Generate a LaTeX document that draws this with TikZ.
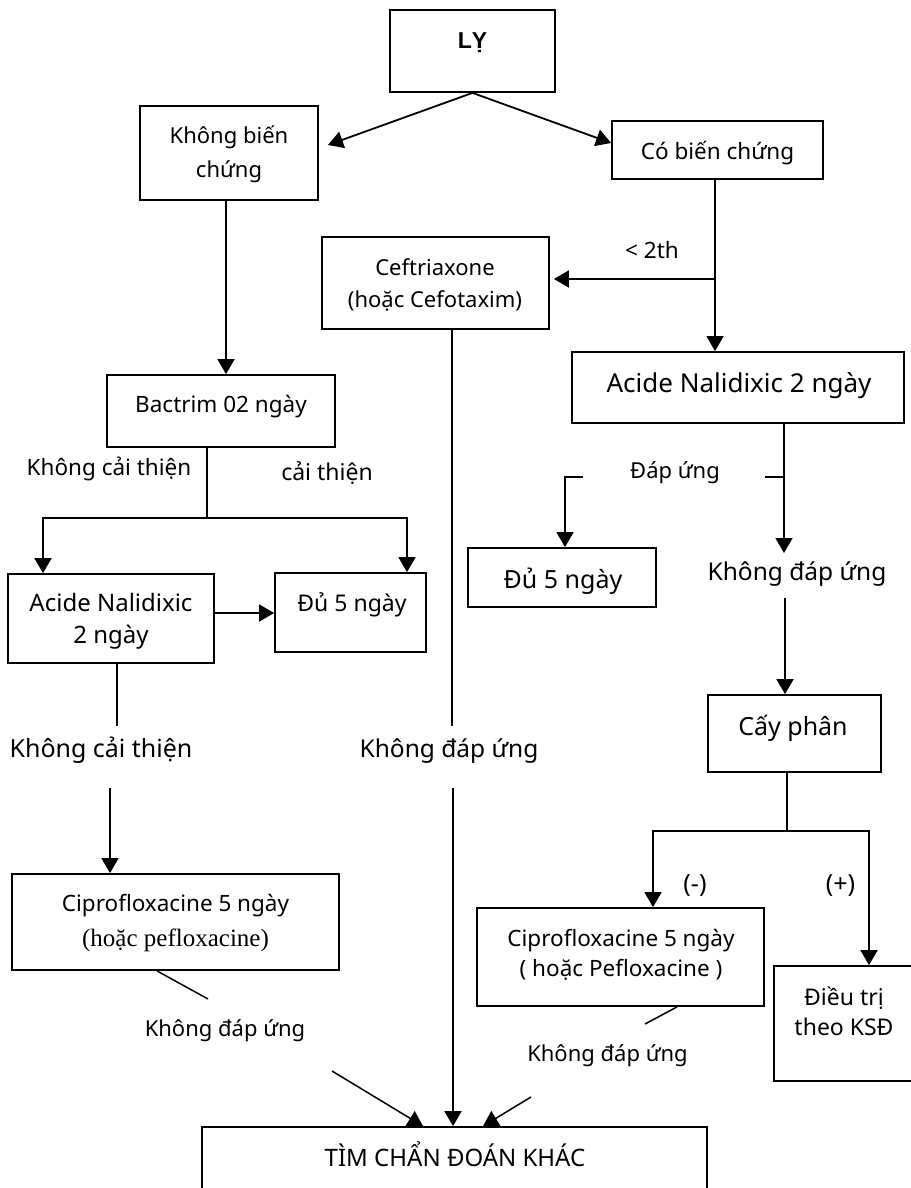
\documentclass[tikz,border=0pt]{standalone}
\usepackage{fontspec}
\setmainfont{Noto Sans}
\newfontfamily\lyfont{Liberation Sans}
\newfontfamily\cipserif{Liberation Serif}
\usetikzlibrary{arrows.meta}
\begin{document}
\begin{tikzpicture}[x=1pt,y=-1pt,
  box/.style={draw, line width=1.8pt, inner sep=0pt},
  t/.style={inner sep=0pt, anchor=base},
  fs/.style={font=\fontsize{#1}{#1}\selectfont},
  ln/.style={line width=1.8pt},
  arr/.style={line width=1.8pt, -{Triangle[length=15pt,width=17pt]}}]
\useasboundingbox (0,0) rectangle (910,1188);

% boxes
\node[box, minimum width=165pt, minimum height=82pt] (ly) at (472.5,51) {};
\node[box, minimum width=178pt, minimum height=94pt] (kbc) at (229,153) {};
\node[box, minimum width=211pt, minimum height=58pt] (cbc) at (717.5,150) {};
\node[box, minimum width=227pt, minimum height=92pt] (ceft) at (435.5,283) {};
\node[box, minimum width=228pt, minimum height=72pt] (bact) at (221,411) {};
\node[box, minimum width=206pt, minimum height=89pt] (acL) at (111,618.5) {};
\node[box, minimum width=151pt, minimum height=79pt] (du5L) at (350.5,612.5) {};
\node[box, minimum width=332pt, minimum height=71pt] (acR) at (738,387.5) {};
\node[box, minimum width=188pt, minimum height=59pt] (du5R) at (562,577.5) {};
\node[box, minimum width=173pt, minimum height=77pt] (cay) at (794.5,733.5) {};
\node[box, minimum width=327pt, minimum height=96pt] (cipL) at (175.5,922) {};
\node[box, minimum width=287pt, minimum height=98pt] (cipR) at (620.5,957) {};
\node[box, minimum width=186pt, minimum height=115pt] (dieu) at (867,1023.5) {};
\node[box, minimum width=505pt, minimum height=103pt] (tim) at (454.5,1178.5) {};

% texts in boxes (anchored at baseline)
\node[t, font=\lyfont\bfseries\fontsize{23}{23}\selectfont] (lyT) at (472.5,49) {LỴ};
\node[t, fs=22] (kbcA) at (229,143) {Không biến};
\node[t, fs=22] (kbcB) at (229,177) {chứng};
\node[t, fs=22.5] (cbcT) at (717.5,160) {Có biến chứng};
\node[t, fs=22] (ceftA) at (435,275) {Ceftriaxone};
\node[t, fs=22] (ceftB) at (435,307) {(hoặc Cefotaxim)};
\node[t, fs=22.5] (bactT) at (221,412) {Bactrim 02 ngày};
\node[t, fs=24] (acLA) at (111,611) {Acide Nalidixic};
\node[t, fs=24] (acLB) at (111,643) {2 ngày};
\node[t, fs=23] (du5LT) at (352,611) {Đủ 5 ngày};
\node[t, fs=26] (acRT) at (739,392) {Acide Nalidixic 2 ngày};
\node[t, fs=25] (du5RT) at (563,588) {Đủ 5 ngày};
\node[t, fs=25] (cayT) at (793,735) {Cấy phân};
\node[t, fs=22.5] (cipLA) at (175.5,911) {Ciprofloxacine 5 ngày};
\node[t, font=\cipserif\fontsize{25}{25}\selectfont] (cipLB) at (175.5,946) {(hoặc pefloxacine)};
\node[t, fs=22.5] (cipRA) at (621,946) {Ciprofloxacine 5 ngày};
\node[t, fs=22.5] (cipRB) at (621,976) {( hoặc Pefloxacine )};
\node[t, fs=23] (dieuA) at (844,1005) {Điều trị};
\node[t, fs=23] (dieuB) at (844,1035) {theo KSĐ};
\node[t, fs=24] (timT) at (455,1166) {TÌM CHẨN ĐOÁN KHÁC};

% labels
\node[t, fs=22.5] (l2th) at (652,258) {< 2th};
\node[t, fs=22.5] (lkct) at (109,475) {Không cải thiện};
\node[t, fs=23] (lct) at (327,480) {cải thiện};
\node[t, fs=22] (ldu) at (675,478) {Đáp ứng};
\node[t, fs=24.5] (lkduR) at (797,580) {Không đáp ứng};
\node[t, fs=25] (lkctB) at (101,757) {Không cải thiện};
\node[t, fs=24.5] (lkduM) at (449,757) {Không đáp ứng};
\node[t, fs=25] (lneg) at (695,892) {(-)};
\node[t, fs=25] (lpos) at (840.5,892) {(+)};
\node[t, fs=22] (lkduBL) at (225,1036) {Không đáp ứng};
\node[t, fs=22] (lkduBR) at (607.5,1061) {Không đáp ứng};

% coordinates
\coordinate (tipK) at (328,145);
\coordinate (j1) at (715,279);
\coordinate (m1) at (452,726);
\coordinate (m2) at (453,788);
\coordinate (bj) at (207,518);
\coordinate (a1) at (117,726);
\coordinate (a2) at (110,788);
\coordinate (c2) at (208,999);
\coordinate (c3) at (332,1071);
\coordinate (r1) at (784,477);
\coordinate (r2) at (784,553);
\coordinate (r3) at (765,477);
\coordinate (r5) at (583,477);
\coordinate (r6) at (565,477);
\coordinate (r4) at (785,598);
\coordinate (k1) at (787,831);
\coordinate (e2) at (645,1024);
\coordinate (e3) at (531,1097);

% connectors
\draw[arr] (ly.south) -- (tipK);
\draw[arr] (ly.south) -- (cbc.west |- 0,143);
\draw[arr] (226,0 |- kbc.south) -- (226,0 |- bact.north);
\draw[arr] (715,0 |- cbc.south) -- (715,0 |- acR.north);
\draw[arr, shorten >=4pt] (j1) -- (ceft.east |- j1);
\draw[ln] (452,0 |- ceft.south) -- (m1);
\draw[arr] (m2) -- (tim.north -| m2);
\draw[ln] (bact.south -| bj) -- (bj);
\draw[arr] (bj) -| (acL.north -| 43,0);
\draw[arr] (bj) -| (du5L.north -| 407,0);
\draw[arr] (acL.east |- 0,613) -- (du5L.west |- 0,613);
\draw[ln] (acL.south -| a1) -- (a1);
\draw[arr] (a2) -- (cipL.north -| a2);
\draw[line width=1.5pt] (cipL.south -| 157,0) -- (c2);
\draw[arr, line width=1.5pt] (c3) -- (tim.north -| 423,0);
\draw[arr] (acR.south -| r1) -- (r2);
\draw[ln] (r3) -- (r1);
\draw[arr] (r5) -- (r6) -- (du5R.north -| r6);
\draw[arr] (r4) -- (cay.north -| r4);
\draw[ln] (cay.south -| k1) -- (k1);
\draw[arr] (k1) -| (cipR.north -| 653,0);
\draw[arr] (k1) -| (dieu.north -| 869,0);
\draw[line width=1.5pt] (cipR.south -| 677,0) -- (e2);
\draw[arr, line width=1.5pt] (e3) -- (tim.north -| 483,0);
\end{tikzpicture}
\end{document}
